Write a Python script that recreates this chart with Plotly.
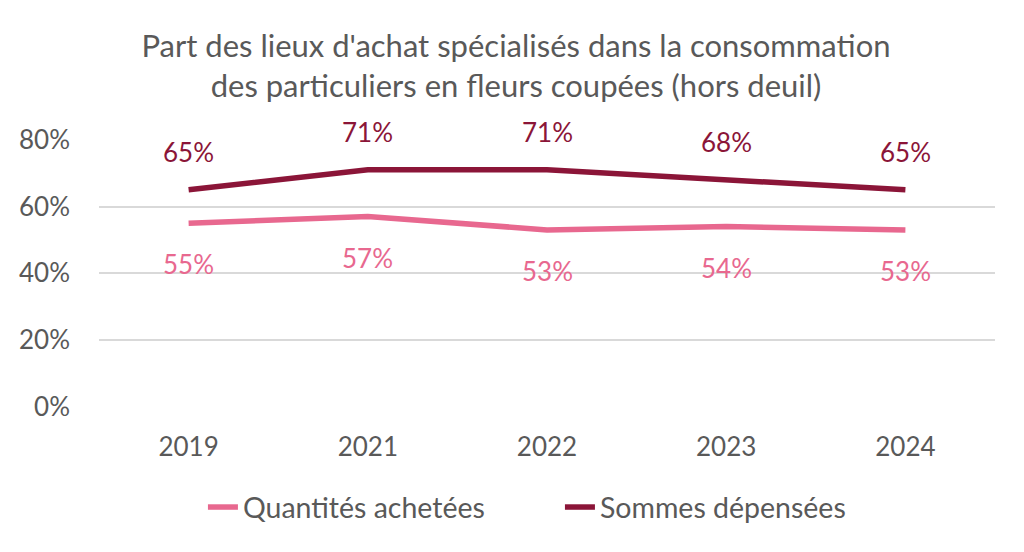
import plotly.graph_objects as go

years = ["2019", "2021", "2022", "2023", "2024"]
quantites = [55, 57, 53, 54, 53]
sommes = [65, 71, 71, 68, 65]
y_ticks = [0, 20, 40, 60, 80]
y_tick_labels = ["0%", "20%", "40%", "60%", "80%"]

pink = "#E8688F"
maroon = "#8B1538"
grey = "#595959"
font_family = "Lato, 'Open Sans', sans-serif"

fig = go.Figure()
fig.add_trace(go.Scatter(x=years, y=quantites, mode="lines", name="Quantités achetées",
                         line=dict(color=pink, width=5.5)))
fig.add_trace(go.Scatter(x=years, y=sommes, mode="lines", name="Sommes dépensées",
                         line=dict(color=maroon, width=5.5)))

for i, v in enumerate(quantites):
    fig.add_annotation(x=i, y=v, xref="x", yref="y", text=f"{v}%", showarrow=False, yshift=-41,
                       font=dict(color=pink, size=26, family=font_family))
for i, v in enumerate(sommes):
    fig.add_annotation(x=i, y=v, xref="x", yref="y", text=f"{v}%", showarrow=False, yshift=38,
                       font=dict(color=maroon, size=26, family=font_family))

fig.update_layout(
    width=1016, height=544,
    margin=dict(l=91, r=29, t=131, b=145),
    paper_bgcolor="white", plot_bgcolor="white",
    font=dict(family=font_family, color=grey, size=26),
    title=dict(text="Part des lieux d'achat spécialisés dans la consommation<br>des particuliers en fleurs coupées (hors deuil)",
               x=0.5, xanchor="center", y=0.91, yanchor="top",
               font=dict(size=31, color=grey, family=font_family)),
    xaxis=dict(type="category", range=[-0.5, 4.5], showgrid=False, showline=False,
               ticks="", ticklabelstandoff=22, tickfont=dict(size=26, color=grey)),
    yaxis=dict(range=[0, 80.2], tickvals=y_ticks, ticktext=y_tick_labels, showgrid=True,
               gridcolor="#D9D9D9", gridwidth=1.5, zeroline=False, showline=False,
               ticks="", ticklabelstandoff=28, tickfont=dict(size=26, color=grey)),
    legend=dict(orientation="h", x=0.116, xanchor="left", y=-0.375, yanchor="middle",
                font=dict(size=28.5, color=grey), tracegroupgap=0,
                entrywidth=312, entrywidthmode="pixels"),
    showlegend=True,
)

fig.write_html("out.html")
